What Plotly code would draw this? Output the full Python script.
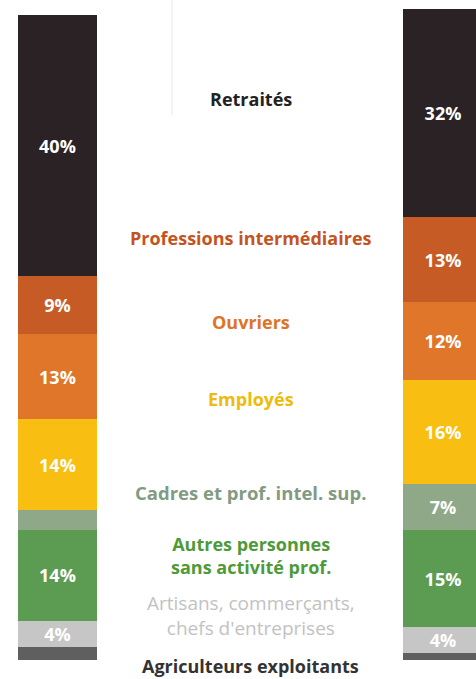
import plotly.graph_objects as go

# categories, bottom to top of the stack
categories = [
    "Agriculteurs exploitants",
    "Artisans, commerçants,<br>chefs d'entreprises",
    "Autres personnes<br>sans activité prof.",
    "Cadres et prof. intel. sup.",
    "Employés",
    "Ouvriers",
    "Professions intermédiaires",
    "Retraités",
]
left_values = [2, 4, 14, 3, 14, 13, 9, 40]
right_values = [1, 4, 15, 7, 16, 12, 13, 32]
left_labels = ["", "4%", "14%", "", "14%", "13%", "9%", "40%"]
right_labels = ["", "4%", "15%", "7%", "16%", "12%", "13%", "32%"]

bar_colors = ["#5f5f5f", "#c6c6c6", "#5b9c52", "#8ea888",
              "#f8be12", "#e0762a", "#c75b25", "#2b2226"]
label_colors = ["#333333", "#c2c2c2", "#4e9a3a", "#839a82",
                "#efbb0a", "#dd7426", "#c4541e", "#222222"]
label_bold = [True, False, True, True, True, True, True, True]
label_size = [18, 19, 18, 18.5, 18, 18, 18, 18]
label_y = [-0.9, 6.8, 16.0, 25.8, 40.1, 51.9, 64.8, 86.2]

fig = go.Figure()
for i, cat in enumerate(categories):
    fig.add_trace(go.Bar(
        x=[0, 1],
        y=[left_values[i], right_values[i]],
        text=[left_labels[i], right_labels[i]],
        textposition="inside",
        insidetextanchor="middle",
        textangle=0,
        textfont=dict(family="Open Sans", size=18, color="white", weight="bold"),
        marker=dict(color=bar_colors[i], line=dict(width=0)),
        width=0.205,
        name=cat.replace("<br>", " "),
        showlegend=False,
        hoverinfo="skip",
    ))
    fig.add_annotation(
        x=0.502, y=label_y[i],
        text=cat,
        showarrow=False,
        font=dict(family="Open Sans", size=label_size[i], color=label_colors[i],
                  weight="bold" if label_bold[i] else "normal"),
        align="center",
    )

# faint separator at the top
fig.add_shape(type="line", xref="x", yref="paper",
              x0=0.297, x1=0.297, y0=0.83, y1=1.0,
              line=dict(color="#e6e6e6", width=1))

fig.update_layout(
    barmode="stack",
    width=476, height=679,
    margin=dict(l=0, r=0, t=0, b=0),
    paper_bgcolor="white",
    plot_bgcolor="white",
    uniformtext=dict(minsize=18, mode="show"),
    xaxis=dict(range=[-0.149, 1.0856], visible=False, fixedrange=True),
    yaxis=dict(range=[-2.92, 101.38], visible=False, fixedrange=True),
)

fig.write_html("out.html", config={"displayModeBar": False},
               post_script="document.body.style.margin='0';")
